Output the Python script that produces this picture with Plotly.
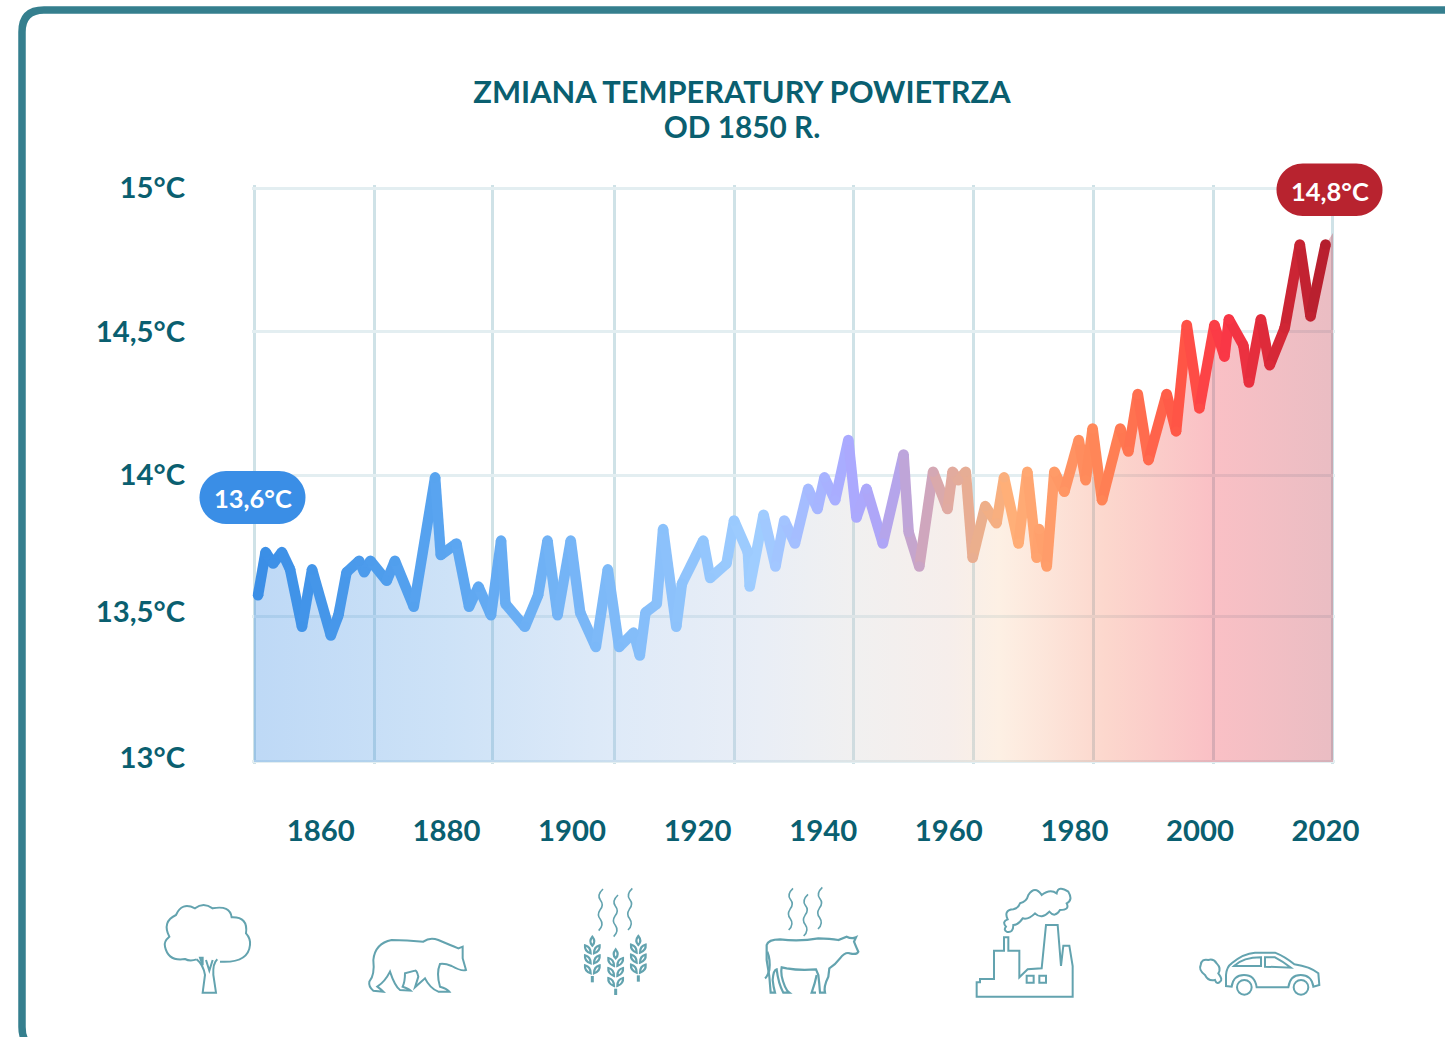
import re
import plotly.graph_objects as go

# ---------- data ----------
years = [1850.0,1851.2,1852.4,1853.8,1855.1,1857.0,1858.6,1861.6,1862.8,1864.1,1866.1,1866.9,1867.9,1870.5,1871.8,
         1874.8,1878.2,1879.1,1881.6,1883.6,1885.1,1887.1,1888.7,1889.4,1892.5,1894.6,1896.1,1897.7,1899.8,1901.3,
         1903.8,1905.7,1907.5,1909.8,1910.8,1911.7,1913.5,1914.5,1916.6,1917.5,1920.9,1922.0,1924.6,1925.8,1928.0,
         1928.3,1930.5,1932.4,1933.8,1935.5,1937.6,1939.1,1940.2,1941.9,1944.0,1945.3,1946.9,1949.5,1952.8,1953.6,
         1955.3,1957.5,1959.8,1960.6,1961.5,1962.7,1963.8,1965.8,1967.6,1968.8,1971.1,1972.5,1974.0,1974.4,1975.6,
         1976.8,1978.4,1980.7,1981.8,1982.9,1984.4,1987.3,1988.6,1990.1,1991.8,1994.7,1996.2,1997.9,1999.9,2002.3,
         2003.9,2004.6,2006.9,2007.8,2009.7,2011.1,2013.5,2015.9,2017.6,2020.0]
temps = [13.58,13.73,13.69,13.73,13.67,13.47,13.67,13.44,13.51,13.66,13.70,13.66,13.70,13.63,13.70,
         13.54,13.99,13.72,13.76,13.54,13.61,13.51,13.77,13.55,13.47,13.58,13.77,13.51,13.77,13.52,
         13.40,13.67,13.40,13.45,13.37,13.52,13.55,13.81,13.47,13.62,13.77,13.64,13.69,13.84,13.73,
         13.61,13.86,13.68,13.84,13.76,13.95,13.88,13.99,13.91,14.12,13.85,13.95,13.76,14.07,13.80,
         13.68,14.01,13.88,14.01,13.98,14.01,13.71,13.89,13.83,13.99,13.76,14.01,13.71,13.81,13.68,
         14.01,13.94,14.12,13.98,14.16,13.91,14.16,14.08,14.28,14.05,14.28,14.15,14.52,14.23,14.52,
         14.41,14.54,14.45,14.32,14.54,14.38,14.51,14.80,14.55,14.80]
x_ticks = [1860,1880,1900,1920,1940,1960,1980,2000,2020]
y_label_pos = [13.014,13.522,13.998,14.496,14.9965]
y_labels = ["13°C","13,5°C","14°C","14,5°C","15°C"]
x_grid = [1849.45,1868.5,1887.4,1906.7,1925.8,1944.9,1964.0,1983.1,2002.2,2021.1]
y_grid = [13.002,13.505,13.998,14.496,14.995]
x_min, x_max = 1849.36, 2021.18
x_range = [1849.04, 2021.5]
y_range = [12.993, 15.007]
title_lines = ["ZMIANA TEMPERATURY POWIETRZA", "OD 1850 R."]
title_sizes = [30.8, 29.8]
start_label, end_label = "13,6°C", "14,8°C"

# ---------- styles ----------
W, H = 1445, 1037
L, R, T, B = 252, 1335, 185, 764
INK = "#0a5f70"
ICON = "#63a3af"
line_stops = [(1850,(58,142,230)),(1880,(90,165,240)),(1905,(125,185,248)),(1930,(160,205,255)),
              (1944,(170,170,255)),(1950,(175,165,245)),(1955,(200,165,200)),(1960,(225,170,160)),
              (1965,(235,175,140)),(1970,(255,175,120)),(1985,(255,130,85)),(1997,(255,85,70)),
              (2004,(250,55,70)),(2012,(215,40,55)),(2020,(180,30,45))]
fill_stops = [(1850,(38,128,225)),(1880,(88,158,228)),(1906,(145,185,232)),(1930,(182,198,225)),
              (1945,(208,205,205)),(1960,(225,198,188)),(1968,(248,205,165)),(1985,(245,122,88)),
              (2002,(238,45,62)),(2021,(185,35,55))]

def col(y):
    for (a,ca),(b,cb) in zip(line_stops,line_stops[1:]):
        if y <= b:
            t = max(0,(y-a)/(b-a))
            return "rgb(%d,%d,%d)" % tuple(round(p+(q-p)*t) for p,q in zip(ca,cb))
    return "rgb(%d,%d,%d)" % line_stops[-1][1]

fig = go.Figure()
# base of the area at 13 °C
fig.add_trace(go.Scatter(x=[x_min,x_max], y=[13,13], mode="lines", line=dict(width=0),
    hoverinfo="skip", showlegend=False))
# gradient area
fig.add_trace(go.Scatter(
    x=[x_min]+years+[x_max], y=[temps[0]]+temps+[14.84], mode="lines", line=dict(width=0),
    fill="tonexty", fillgradient=dict(type="horizontal", start=1850, stop=2021,
        colorscale=[[(y-1850)/171, "rgba(%d,%d,%d,0.3)" % c] for y,c in fill_stops]),
    hoverinfo="skip", showlegend=False))
# gradient line, one short piece per step
for i in range(len(years)-1):
    fig.add_trace(go.Scatter(x=years[i:i+2], y=temps[i:i+2], mode="lines",
        line=dict(width=10.5, color=col((years[i]+years[i+1])/2)), hoverinfo="skip", showlegend=False))
fig.add_trace(go.Scatter(x=years, y=temps, mode="markers",
    marker=dict(size=10.5, color=[col(y) for y in years], line=dict(width=0)), hoverinfo="skip", showlegend=False))

# ---------- decorations in pixel coordinates ----------
def px(x): return (x-L)/(R-L)
def py(y): return (B-y)/(B-T)
def to_path(path, ox=0, oy=0, s=1.0):
    out, isx = [], True
    for t in re.findall(r"[A-Za-z]|-?\d+\.?\d*", path):
        if t.isalpha():
            out.append(t); isx = True
        else:
            v = float(t)
            out.append("%.5f" % (px(ox+v*s) if isx else py(oy+v*s)))
            isx = not isx
    return " ".join(out)
shapes = []
def add(path, ox=0, oy=0, s=1.0, color=ICON, width=2.0, fill=None):
    shapes.append(dict(type="path", xref="paper", yref="paper", layer="above",
        path=to_path(path,ox,oy,s), line=dict(color=color,width=width),
        fillcolor=fill if fill else "rgba(0,0,0,0)"))
def circle(cx,cy,r):
    k=0.5523*r
    return (f"M {cx-r},{cy} C {cx-r},{cy-k} {cx-k},{cy-r} {cx},{cy-r} C {cx+k},{cy-r} {cx+r},{cy-k} {cx+r},{cy} "
            f"C {cx+r},{cy+k} {cx+k},{cy+r} {cx},{cy+r} C {cx-k},{cy+r} {cx-r},{cy+k} {cx-r},{cy} Z")
def pill(x0,x1,y0,y1,color):
    r=(y1-y0)/2; k=0.5523*r
    add(f"M {x0+r},{y0} L {x1-r},{y0} C {x1-r+k},{y0} {x1},{y0+r-k} {x1},{y0+r} C {x1},{y0+r+k} {x1-r+k},{y1} {x1-r},{y1} "
        f"L {x0+r},{y1} C {x0+r-k},{y1} {x0},{y0+r+k} {x0},{y0+r} C {x0},{y0+r-k} {x0+r-k},{y0} {x0+r},{y0} Z",
        color=color, width=0, fill=color)

# frame
add("M 44,1049 Q 22,1049 22,1027 L 22,32 Q 22,10 44,10 L 1470,10", color="#357f8e", width=7.5)
# pills
pill(199.5,305.5,471,524,"#3a8ee6")
pill(1276.5,1382.5,163.5,216,"#b8232f")

# tree
O5=(140,880,1/3)
add("M 240,245 Q 325,250 330,195 Q 332,175 318,160 Q 325,110 275,112 Q 270,75 218,85 Q 190,65 165,85 Q 125,65 108,105 "
    "Q 65,125 88,170 Q 70,185 75,200 Q 85,245 135,237 Q 150,245 170,238",*O5)
add("M 170,238 Q 190,255 195,285 L 188,338 L 228,338 L 220,285 Q 218,250 232,238",*O5)
add("M 180,233 L 188,256 L 188,233 Z",*O5)
add("M 198,240 L 208,272 L 218,240",*O5)
# bear
add("M 700,240 Q 705,190 755,180 Q 800,180 850,185 Q 870,170 895,180 Q 930,195 955,205 L 968,200 L 968,235 Q 975,260 978,270 "
    "Q 965,275 935,258 Q 915,250 900,252 Q 888,280 900,320 Q 920,325 928,335 L 895,335 Q 870,325 855,295 L 825,322 L 835,290 "
    "Q 830,270 825,272 L 795,280 Q 795,305 788,320 Q 805,325 812,332 L 780,330 Q 765,320 750,275 Q 735,305 712,320 Q 725,330 730,335 "
    "L 700,332 Q 685,320 688,305 Q 705,285 700,240 Z",*O5)

# wheat and steam
O6=(560,880,1/3)
def wheat(cx,dy):
    add(f"M {cx},{170+dy} Q {cx+12},{185+dy} {cx},{197+dy} Q {cx-12},{185+dy} {cx},{170+dy} Z",*O6,width=2.2)
    for y in (208,238,268):
        yy=y+dy
        add(f"M {cx-5},{yy+12} Q {cx-24},{yy+5} {cx-22},{yy-12} Q {cx-5},{yy-8} {cx-5},{yy+12} Z",*O6,width=2.2)
        add(f"M {cx+5},{yy+12} Q {cx+24},{yy+5} {cx+22},{yy-12} Q {cx+5},{yy-8} {cx+5},{yy+12} Z",*O6,width=2.2)
    add(f"M {cx},{288+dy} L {cx},{307+dy}",*O6,width=3)
def steam(x,y):
    add(f"M {x+9},{y} Q {x-10},{y+18} {x+1},{y+33} Q {x+13},{y+48} {x},{y+63} Q {x-10},{y+78} {x+1},{y+91} Q {x+13},{y+108} {x-4},{y+125}",*O6,width=1.6)
wheat(97,0); wheat(167,38); wheat(235,-2)
for sx,sy in ((120,27),(165,45),(208,25),(690,25),(735,43),(778,22)):
    steam(sx,sy)
# cow
add("M 620,195 Q 625,178 660,178 Q 720,185 775,175 Q 810,175 835,180 L 860,170 Q 875,178 888,172 L 882,185 Q 890,205 895,215 "
    "Q 890,225 870,220 Q 855,215 840,235 Q 825,255 808,265 L 805,290 Q 790,320 795,338 L 780,338 Q 778,310 775,285 L 768,268 "
    "Q 720,272 680,265 L 665,262 Q 660,285 675,320 Q 680,332 688,338 L 670,338 Q 655,310 650,268 Q 640,270 638,300 Q 640,320 645,338 "
    "L 632,338 Q 630,290 620,240 Z",*O6,width=2.2)
add("M 622,215 Q 632,240 628,270 Q 622,290 615,295",*O6,width=2.2)
add("M 768,338 L 755,338 Q 765,310 770,285",*O6,width=2.2)

# factory and car
O7=(960,880,1/3)
add("M 50,350 L 50,307 L 60,307 L 60,297 L 102,297 L 102,212 L 132,212 L 132,172 L 145,172 L 145,212 L 178,212 L 178,292 L 203,268 "
    "L 245,265 L 258,135 L 293,135 L 303,258 L 310,197 L 328,197 L 338,258 L 338,350 Z",*O7)
add("M 200,287 L 221,287 L 221,308 L 200,308 Z",*O7)
add("M 238,287 L 258,287 L 258,308 L 238,308 Z",*O7)
add("M 140,155 Q 130,150 138,140 Q 125,125 143,118 Q 130,90 160,88 Q 175,85 180,70 Q 200,65 205,45 Q 225,15 245,45 Q 270,25 290,40 "
    "Q 295,15 325,35 Q 340,60 320,70 Q 330,90 300,90 Q 285,115 268,95 Q 245,120 225,100 Q 205,120 188,115 Q 175,135 160,135 Q 160,160 140,155 Z",*O7)
add("M 798,318 L 798,285 Q 800,260 815,250 Q 850,220 885,218 L 945,218 Q 975,230 1003,253 Q 1050,260 1075,280 L 1078,315 L 1060,320 "
    "Q 1055,285 1022,285 Q 990,285 985,322 L 890,322 Q 885,285 852,285 Q 820,285 815,320 Z",*O7)
add("M 822,258 Q 850,232 903,232 L 903,258 Z",*O7)
add("M 915,232 L 945,232 Q 970,245 993,263 L 915,260 Z",*O7)
add(circle(853,322,22),*O7)
add(circle(1023,322,22),*O7)
add("M 780,305 Q 770,315 765,300 Q 745,305 735,285 Q 715,270 722,255 Q 725,235 745,240 Q 760,235 770,250 Q 785,265 775,280 Q 790,300 780,305 Z",*O7)

fnt = dict(family="Lato", size=29.3, color=INK, weight=700)
title_text = "<br>".join(f"<span style='font-size:{s}px'>{t}</span>" for t,s in zip(title_lines,title_sizes))
fig.update_layout(
    width=W, height=H, margin=dict(l=L, r=W-R, t=T, b=H-B, pad=0),
    paper_bgcolor="white", plot_bgcolor="white", showlegend=False, hovermode=False,
    title=dict(text=title_text, x=742/W, xanchor="center", y=1-103/H, yanchor="top",
               font=dict(family="Lato", size=27, color=INK, weight=700)),
    xaxis=dict(range=x_range, tickmode="array", tickvals=x_ticks, ticktext=[str(v) for v in x_ticks],
               showgrid=False, zeroline=False, showline=False,
               ticks="outside", ticklen=41, tickcolor="rgba(0,0,0,0)", tickfont=fnt,
               minor=dict(tickmode="array", tickvals=x_grid, showgrid=True, gridcolor="#cfe2e7", gridwidth=2.5, ticks="")),
    yaxis=dict(range=y_range, tickmode="array", tickvals=y_label_pos, ticktext=y_labels,
               showgrid=False, zeroline=False, showline=False,
               ticks="outside", ticklen=60, tickcolor="rgba(0,0,0,0)", tickfont=fnt,
               minor=dict(tickmode="array", tickvals=y_grid, showgrid=True, gridcolor="#e3eef1", gridwidth=2.5, ticks="")),
    shapes=shapes,
    annotations=[
        dict(text=start_label, xref="paper", yref="paper", x=px(253), y=py(498), xanchor="center", yanchor="middle",
             showarrow=False, font=dict(family="Lato", size=25.5, color="white", weight=700)),
        dict(text=end_label, xref="paper", yref="paper", x=px(1330), y=py(191), xanchor="center", yanchor="middle",
             showarrow=False, font=dict(family="Lato", size=25.5, color="white", weight=700)),
    ],
)
fig.write_html("out.html", config=dict(displayModeBar=False), post_script="document.body.style.margin='0';")
